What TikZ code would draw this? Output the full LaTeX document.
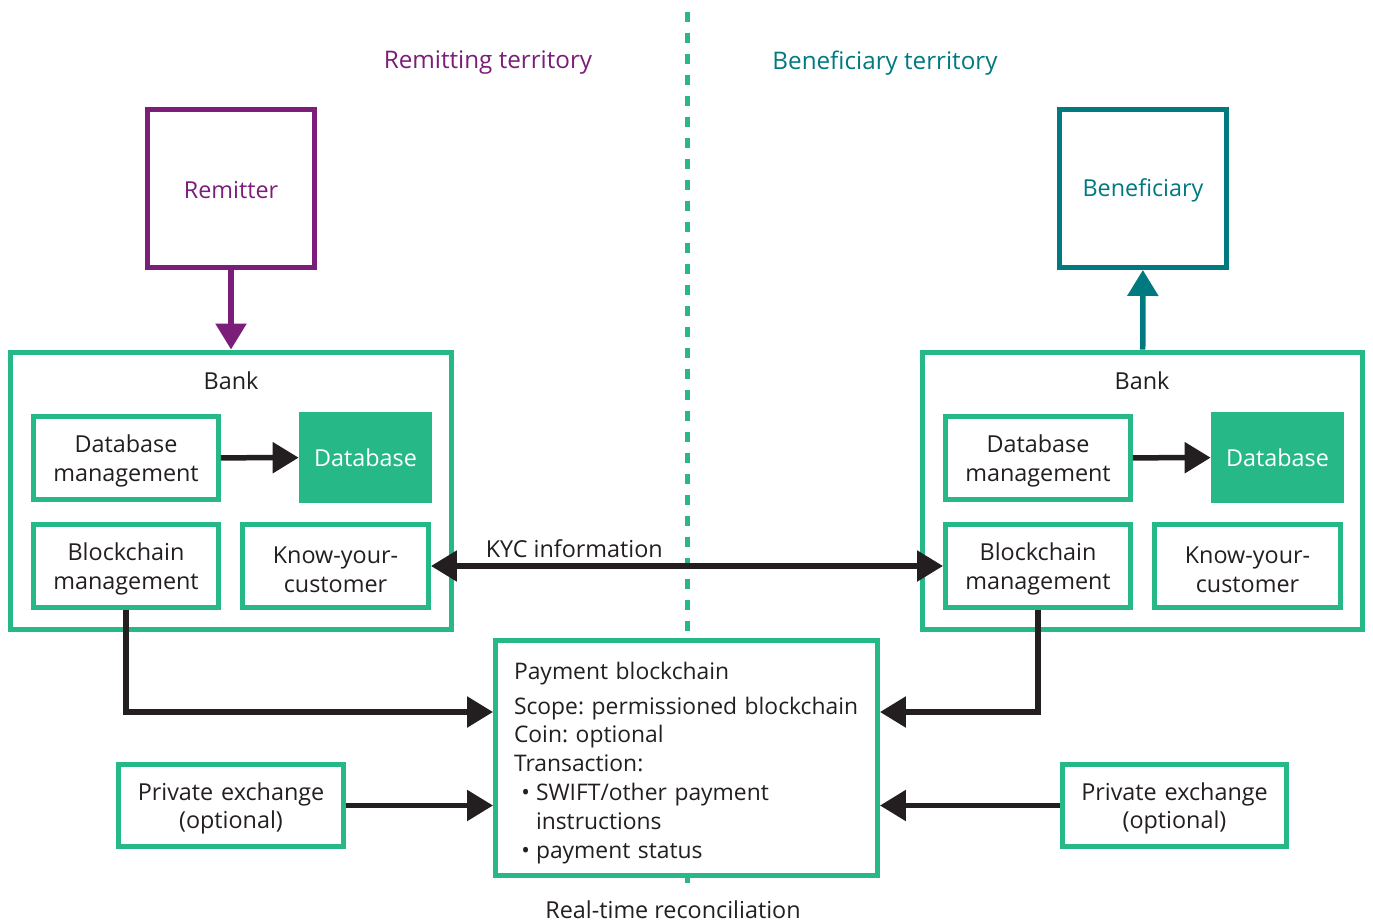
\documentclass[tikz,border=0pt]{standalone}
\usepackage{fontspec}
\setmainfont{Open Sans}
\frenchspacing
\usetikzlibrary{positioning, arrows.meta}
\definecolor{bankgreen}{HTML}{26B886}
\definecolor{rempurple}{HTML}{7B1E7A}
\definecolor{benteal}{HTML}{00797F}
\definecolor{ink}{HTML}{231F20}
\tikzset{
every node/.style={font=\fontsize{13.3}{16.4}\selectfont, text=ink, align=center}, % same text everywhere
>={Triangle[length=0.52cm, width=0.6cm]}, % big solid arrow heads
conn/.style={->, draw=ink, line width=0.11cm}, % black connectors
lift/.style={execute at begin node={\rule{0pt}{#1}}}, % pushes the text a little down
box/.style={draw=bankgreen, line width=0.1cm, fill=white, inner sep=0pt, lift=0.47cm, text width=3.4cm,
  minimum width=3.7cm, minimum height=1.66cm}, % small green boxes
bankbox/.style={box, minimum width=8.82cm, minimum height=5.56cm}, % the bank frame
dbbox/.style={fill=bankgreen, text=white, minimum width=2.66cm, minimum height=1.82cm}, % filled database
party/.style={draw=#1, text=#1, line width=0.1cm, lift=0.42cm, text width=3cm,
  minimum width=3.34cm, minimum height=3.16cm}, % remitter / beneficiary
title/.style={text=#1, font=\fontsize{13.8}{16.4}\selectfont}, % territory names
}

\begin{document}
\begin{tikzpicture}[x=0.02cm, y=-0.02cm]
\useasboundingbox (0,0) rectangle (1373,922);
% territory border
\draw[bankgreen, line width=0.1cm, dash pattern=on 0.2cm off 0.22cm] (687,12) -- (687,890);
\node[title=rempurple] (remt) at (488,63) {Remitting territory};
\node[title=benteal] (bent) at (885,63) {Beneficiary territory};

% remitting side
\node[party=rempurple] (rem) at (231,188.5) {Remitter};
\node[bankbox] (bankL) at (231,491) {};
\node (bankLt) at (231,381) {Bank};
\node[box] (dbmL) at (126,458) {Database\\management};
\node[dbbox] (dbL) at (365.5,457.5) {Database};
\node[box] (bcmL) at (126,566) {Blockchain\\management};
\node[box, minimum width=3.72cm] (kycL) at (335.5,566) {Know-your-\\customer};
\node[box, minimum width=4.5cm, minimum height=1.64cm, text width=4.2cm] (pxL) at (231,805.5) {Private exchange\\(optional)};

% beneficiary side
\node[party=benteal] (ben) at (1143,188.5) {Beneficiary};
\node[bankbox] (bankR) at (1142.5,491) {};
\node (bankRt) at (1142,381) {Bank};
\node[box] (dbmR) at (1038,458) {Database\\management};
\node[dbbox] (dbR) at (1277.5,457.5) {Database};
\node[box] (bcmR) at (1038,566) {Blockchain\\management};
\node[box, minimum width=3.72cm] (kycR) at (1247.5,566) {Know-your-\\customer};
\node[box, minimum width=4.5cm, minimum height=1.64cm, text width=4.2cm] (pxR) at (1174.5,805.5) {Private exchange\\(optional)};

% shared ledger
\node[box, lift=0.54cm, font=\fontsize{13}{16.4}\selectfont, minimum width=7.64cm, minimum height=4.7cm,
  text width=6.9cm, align=left] (pay) at (686.5,758)
  {Payment blockchain\\[0.12cm]
   \mbox{Scope: permissioned blockchain}\\
   Coin: optional\\
   Transaction:\\
   \makebox[0.44cm][r]{\textbullet\hspace{0.12cm}}SWIFT/other payment\\
   \hspace*{0.44cm}instructions\\
   \makebox[0.44cm][r]{\textbullet\hspace{0.12cm}}payment status};
\node (rtr) at (673,910) {Real-time reconciliation};

\draw[conn, draw=rempurple, {Triangle[length=0.52cm, width=0.6cm, fill=rempurple]}-] (bankL) -- (rem);
\draw[conn, draw=benteal, ->] (bankR) -- (ben);
\draw[conn] (dbmL) -- (dbL);
\draw[conn] (dbmR) -- (dbR);
\draw[conn] (pxL) -- (pxL -| pay.west);
\draw[conn] (pxR) -- (pxR -| pay.east);
\draw[conn, <->] (kycL) -- node[above, pos=0.28] (kyct) {KYC information} (bcmR);
\draw[conn] (bcmL.south) |- ([yshift=0.92cm]pay.west);
\draw[conn] (bcmR.south) |- ([yshift=0.92cm]pay.east);
\end{tikzpicture}
\end{document}
